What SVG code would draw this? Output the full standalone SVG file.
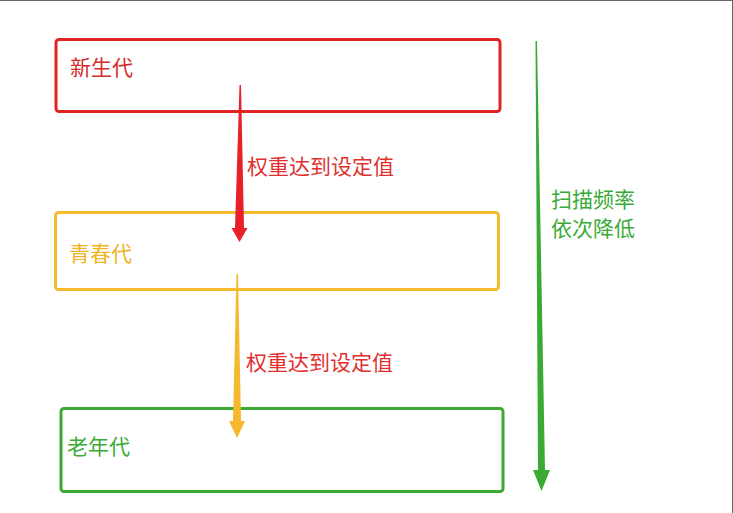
<svg xmlns="http://www.w3.org/2000/svg" width="733" height="513" viewBox="0 0 733 513">
  <style>
    .box { fill: none; stroke-width: 3; }
    .lbl { font-family: "Noto Sans CJK SC", "Noto Sans", sans-serif; font-size: 21px; }
  </style>
  <rect x="0" y="0" width="733" height="513" fill="#ffffff"/>
  <!-- frame edges -->
  <line x1="0" y1="0.5" x2="733" y2="0.5" stroke="#666" stroke-width="1"/>
  <line x1="732.5" y1="0" x2="732.5" y2="513" stroke="#666" stroke-width="1"/>

  <g id="young">
    <rect class="box" x="56" y="39.5" width="444" height="72" rx="3" stroke="#e02424"/>
    <text class="lbl" x="70" y="75" fill="#d42a2a">新生代</text>
  </g>
  <g id="middle">
    <rect class="box" x="55.5" y="212.5" width="443" height="77" rx="3" stroke="#f5bb2c"/>
    <text class="lbl" x="69" y="261" fill="#f0b225">青春代</text>
  </g>
  <g id="old">
    <rect class="box" x="61" y="408.5" width="442" height="83" rx="3" stroke="#3aaa35"/>
    <text class="lbl" x="67" y="454" fill="#3aaa35">老年代</text>
  </g>

  <g id="connectors">
    <!-- tapered arrow: young to middle -->
    <polygon points="239.5,85 241,85 244,228 247.5,228 239.5,242 231.5,228 235,228" fill="#e8202a"/>
    <text class="lbl" x="247" y="174" fill="#e03030">权重达到设定值</text>
    <!-- tapered arrow: middle to old -->
    <polygon points="236.5,274 238,274 241,421 245,421 237,438 229,421 233,421" fill="#f5b82e"/>
    <text class="lbl" x="246" y="370" fill="#e03030">权重达到设定值</text>
    <!-- scan frequency arrow -->
    <polygon points="535.5,41 537,41 545,470 550,470 541.5,491 533,470 538,470" fill="#3aaa35"/>
    <text class="lbl" x="551" y="207" fill="#3aaa35">扫描频率</text>
    <text class="lbl" x="551" y="236" fill="#3aaa35">依次降低</text>
  </g>
</svg>
